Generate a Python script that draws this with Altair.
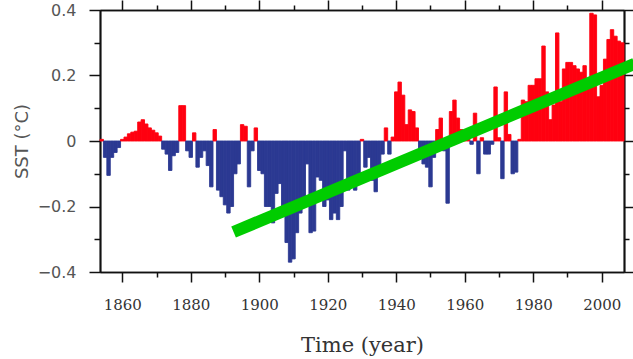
import altair as alt
import pandas as pd

# ---- data ----
START_YEAR = 1854
SST = [
    0.005, -0.05, -0.105, -0.05, -0.035, -0.02,            # 1854-1859
    0.005, 0.012, 0.022, 0.027, 0.03, 0.058, 0.065, 0.052, 0.04, 0.033,   # 1860s
    0.025, 0.015, -0.025, -0.04, -0.09, -0.045, -0.035, 0.108, 0.108, -0.03,  # 1870s
    -0.05, 0.025, -0.08, -0.05, -0.03, -0.075, -0.14, 0.035, -0.15, -0.17,    # 1880s
    -0.195, -0.22, -0.2, -0.1, -0.07, 0.05, 0.045, -0.14, -0.03, 0.04,       # 1890s
    -0.09, -0.1, -0.2, -0.2, -0.25, -0.16, -0.13, -0.22, -0.31, -0.37,       # 1900s
    -0.36, -0.28, -0.22, -0.2, -0.07, -0.28, -0.275, -0.11, -0.12, -0.2,     # 1910s
    -0.18, -0.24, -0.22, -0.24, -0.2, -0.03, -0.15, -0.12, -0.15, -0.1,      # 1920s
    0.005, -0.08, -0.05, -0.12, -0.155, -0.08, -0.04, 0.04, -0.04, 0.012,    # 1930s
    0.15, 0.18, 0.14, 0.05, 0.095, 0.09, 0.04, -0.03, -0.07, -0.08,          # 1940s
    -0.14, -0.05, 0.035, 0.07, -0.03, -0.19, 0.09, 0.125, 0.07, 0.035,       # 1950s
    0.02, 0.01, -0.01, 0.085, -0.1, 0.01, -0.04, -0.04, -0.01, 0.165,        # 1960s
    0.01, -0.115, 0.15, 0.02, -0.1, -0.095, 0.005, 0.125, 0.12, 0.17,        # 1970s
    0.17, 0.19, 0.19, 0.29, 0.15, 0.065, 0.11, 0.33, 0.12, 0.22,             # 1980s
    0.24, 0.24, 0.23, 0.22, 0.21, 0.23, 0.18, 0.39, 0.385, 0.135,            # 1990s
    0.17, 0.25, 0.31, 0.34, 0.32, 0.305, 0.3,                                # 2000-2006
]
YEARS = list(range(START_YEAR, START_YEAR + len(SST)))

TREND_YEARS = [1892.5, 2009.6]
TREND_VALUES = [-0.278, 0.236]

X_MAJOR = [1860, 1880, 1900, 1920, 1940, 1960, 1980, 2000]
X_MINOR = [1870, 1890, 1910, 1930, 1950, 1970, 1990]
Y_MAJOR = [-0.4, -0.2, 0, 0.2, 0.4]
Y_MINOR = [-0.3, -0.1, 0.1, 0.3]

df = pd.DataFrame({"year": YEARS, "sst": SST})
df["sign"] = ["pos" if v >= 0 else "neg" for v in SST]
trend = pd.DataFrame({"year": TREND_YEARS, "sst": TREND_VALUES})

xscale = alt.Scale(domain=[1853.5, 2006.5], nice=False, zero=False)
yscale = alt.Scale(domain=[-0.4, 0.4], nice=False, zero=False)
sign_scale = alt.Scale(domain=["pos", "neg"], range=["#ff0010", "#2b3992"])

common = dict(grid=False, domainColor="#111", domainWidth=1.7,
              tickColor="#111", tickWidth=1.5)


def plain_axis(orient, values, size):
    return alt.Axis(orient=orient, values=values, tickSize=size, labels=False,
                    title=None, **common)


bars = alt.Chart(df).transform_calculate(
    x0="datum.year - 0.5", x1="datum.year + 0.5"
).mark_rect(strokeWidth=0.9).encode(
    x=alt.X("x0:Q", scale=xscale,
            axis=alt.Axis(orient="bottom", values=X_MAJOR, format="d", tickSize=10,
                          labelFont="DejaVu Serif", labelFontSize=15,
                          labelColor="#333", labelPadding=15, labelBaseline="top",
                          title="Time (year)", titleFont="DejaVu Serif",
                          titleFontSize=21, titleFontWeight="normal",
                          titleColor="#333", titleX=262, titleY=79,
                          titleAnchor="middle", titleAlign="center",
                          titleBaseline="alphabetic", **common)),
    x2="x1:Q",
    y=alt.Y("sst:Q", scale=yscale,
            axis=alt.Axis(orient="left", values=Y_MAJOR, format="~g", tickSize=11,
                          labelFont="DejaVu Sans", labelFontSize=16,
                          labelColor="#555", labelPadding=13,
                          title="SST (°C)", titleFont="DejaVu Sans",
                          titleFontSize=18, titleFontWeight="normal",
                          titleColor="#555", titleAngle=270, titleX=-78, titleY=131,
                          titleAlign="center", titleBaseline="middle", **common)),
    y2=alt.datum(0),
    color=alt.Color("sign:N", scale=sign_scale, legend=None),
    stroke=alt.Stroke("sign:N", scale=sign_scale, legend=None),
)

minor_lb = alt.Chart(trend).mark_point(opacity=0).encode(
    x=alt.X("year:Q", scale=xscale, axis=plain_axis("bottom", X_MINOR, 5)),
    y=alt.Y("sst:Q", scale=yscale, axis=plain_axis("left", Y_MINOR, 6)),
)

minor_tr = alt.Chart(trend).mark_point(opacity=0).encode(
    x=alt.X("year:Q", scale=xscale, axis=plain_axis("top", X_MINOR, 5)),
    y=alt.Y("sst:Q", scale=yscale, axis=plain_axis("right", Y_MINOR, 5)),
)

line = alt.Chart(trend).mark_line(color="#00cc00", strokeWidth=12,
                                  strokeCap="butt", clip=False).encode(
    x=alt.X("year:Q", scale=xscale, axis=plain_axis("top", X_MAJOR, 10)),
    y=alt.Y("sst:Q", scale=yscale, axis=plain_axis("right", Y_MAJOR, 9)),
)

chart = alt.layer(bars, minor_lb, minor_tr, line).resolve_axis(
    x="independent", y="independent"
).properties(
    width=524, height=262,
    autosize=alt.AutoSizeParams(type="none"),
    padding={"left": 100, "top": 10, "right": 9, "bottom": 87},
    background="white",
).configure_view(stroke=None)

chart.save("out.html", embed_options={"renderer": "svg", "actions": False})
